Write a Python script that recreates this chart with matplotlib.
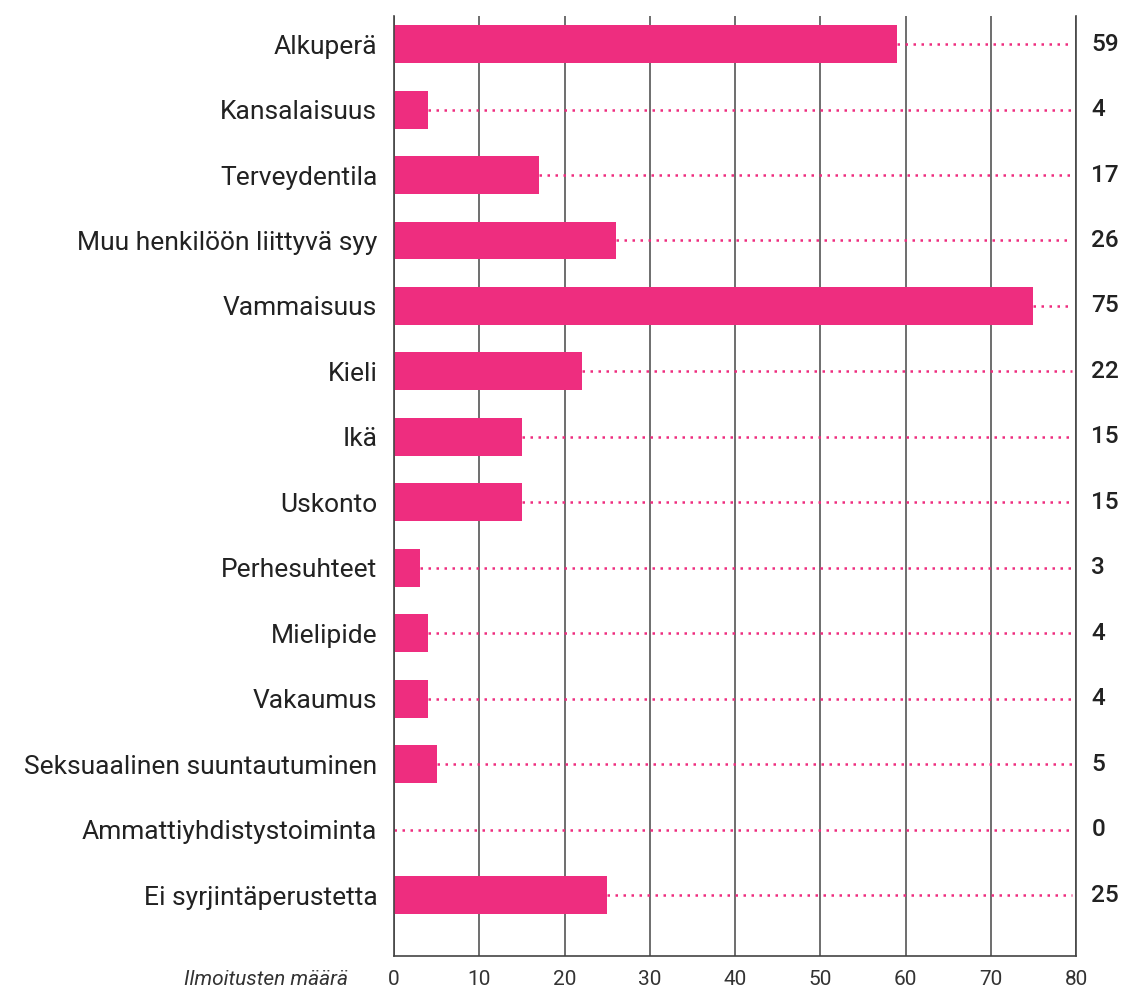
import matplotlib
matplotlib.use("Agg")
import matplotlib.pyplot as plt

categories = ["Alkuperä", "Kansalaisuus", "Terveydentila", "Muu henkilöön liittyvä syy",
              "Vammaisuus", "Kieli", "Ikä", "Uskonto", "Perhesuhteet", "Mielipide",
              "Vakaumus", "Seksuaalinen suuntautuminen", "Ammattiyhdistystoiminta",
              "Ei syrjintäperustetta"]
values = [59, 4, 17, 26, 75, 22, 15, 15, 3, 4, 4, 5, 0, 25]
xticks = [0, 10, 20, 30, 40, 50, 60, 70, 80]
xlabel = "Ilmoitusten määrä"

pink = "#EE2D7F"
plt.rcParams['font.family'] = ['Roboto', 'DejaVu Sans']

fig = plt.figure(figsize=(11.21, 9.91), dpi=100)
ax = fig.add_axes([0.3515, 0.0353, 0.6084, 0.9486])

ypos = list(range(len(categories)))
for x in xticks:
    ax.axvline(x, color="#555555", lw=1.2, zorder=0)
ax.barh(ypos, values, height=0.58, color=pink, zorder=2)
for y, v in zip(ypos, values):
    ax.plot([v, 79.5], [y, y], color=pink, lw=1.8, linestyle=(0, (1, 2.2)), zorder=1)
    ax.text(81.8, y, str(v), va="center", ha="left", fontsize=17.5, color="#222222",
            fontweight="medium")

ax.set_xlim(0, 80)
ax.set_ylim(13.93, -0.43)
ax.set_yticks(ypos)
ax.set_yticklabels(categories, fontsize=19, color="#222222")
ax.set_xticks(xticks)
ax.set_xticklabels([str(t) for t in xticks], fontsize=15, color="#333333")
ax.tick_params(axis="both", length=0)
ax.tick_params(axis="y", pad=12)
ax.tick_params(axis="x", pad=10)
for s in ["left", "right", "bottom"]:
    ax.spines[s].set_color("#444444")
    ax.spines[s].set_linewidth(1.2)
ax.spines["top"].set_visible(False)

fig.text(0.310, 0.0121, xlabel, ha="right", va="center", fontsize=15,
         style="italic", color="#333333")

fig.savefig("out.png", dpi=100)
